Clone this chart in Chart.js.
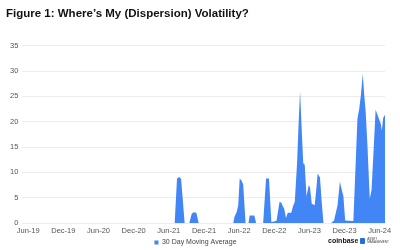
<!DOCTYPE html>
<html>
<head>
<meta charset="utf-8">
<script src="https://cdn.jsdelivr.net/npm/chart.js@4"></script>
<style>
  html, body { margin: 0; padding: 0; background: #fff; }
  #wrap { position: relative; width: 400px; height: 250px; }
  #logo { position: absolute; left: 328px; top: 237px; font-family: "Liberation Sans", Arial, sans-serif; font-size: 7px; font-weight: bold; color: #111; white-space: nowrap; }
  #logo .icon { display: inline-block; width: 5px; height: 6px; background: #1f6fe0; margin: 0 2px 0 2px; vertical-align: -1px; border-radius: 1px; }
  #logo .sub { font-size: 3px; font-weight: normal; color: #444; display: inline-block; line-height: 3px; vertical-align: 0; }
</style>
</head>
<body>
<div id="wrap">
  <canvas id="chart" width="400" height="250"></canvas>
  <div id="logo">coinbase<span class="icon"></span><span class="sub">ASSET<br>MANAGEMENT</span></div>
</div>
<script>
// Libellés des graduations (tous les 6 mois depuis Jun-19)
const tickLabels = ['Jun-19', 'Dec-19', 'Jun-20', 'Dec-20', 'Jun-21', 'Dec-21',
                    'Jun-22', 'Dec-22', 'Jun-23', 'Dec-23', 'Jun-24'];

// Mois écoulés depuis juin 2019
const months = [0, 25.0, 25.4, 25.8, 26.1, 26.7, 27.5, 27.9, 28.2, 28.7, 29.1,
    35.0, 35.2, 35.6, 35.85, 36.1, 36.4, 36.7, 37.1, 37.6, 37.8, 38.6, 38.9,
    40.1, 40.6, 41.1, 41.5, 42.0, 42.4, 42.9, 43.2, 43.5, 43.7, 44.0, 44.3, 44.9,
    45.2, 45.5, 45.9, 46.15, 46.4, 46.7, 46.95, 47.2, 47.5, 47.9, 48.1, 48.4, 48.9,
    49.2, 49.4, 49.8, 50.1, 50.4, 51.7, 52.2, 52.8, 53.2, 53.5, 53.8, 54.1, 55.5,
    55.9, 56.2, 56.5, 56.8, 57.1, 57.35, 57.6, 57.9, 58.3, 58.6, 59.0, 59.3, 59.6,
    59.9, 60.2, 60.35, 60.6, 60.9];

// Moyenne mobile 30 jours
const movingAverage = [0, 0, 8.8, 9.1, 8.7, 0, 0, 1.8, 2.1, 2.0, 0,
    0, 1.2, 2.2, 3.5, 8.8, 8.4, 7.6, 0, 0, 1.5, 1.5, 0,
    0, 8.8, 8.8, 0.2, 0.3, 0.5, 4.2, 4.0, 3.2, 2.8, 1.0, 2.0, 2.0,
    3.3, 4.2, 12, 19.5, 26, 18, 11.8, 11.5, 5.3, 7.5, 7.0, 3.8, 3.5,
    7.0, 9.8, 9.0, 4.2, 0, 0, 0.5, 3.5, 8.2, 6.6, 5.3, 0.5, 0.4,
    12, 20.7, 22.5, 25.4, 29.5, 25.4, 22, 15.4, 4.8, 6.5, 15.4, 22.4, 21.4,
    20.5, 19.5, 18.2, 20.8, 21.4];

const points = months.map((m, i) => ({ x: m, y: movingAverage[i] }));

const ctx = document.getElementById('chart');

new Chart(ctx, {
    type: 'line',
    data: {
        datasets: [{
            label: '30 Day Moving Average',
            data: points,
            backgroundColor: '#4285f4',
            borderColor: '#4285f4',
            borderWidth: 0,
            pointRadius: 0,
            pointStyle: 'rect',
            fill: 'origin',
            tension: 0
        }]
    },
    options: {
        responsive: false,
        animation: false,
        layout: { padding: { left: 6, right: 15, top: 0, bottom: -6 } },
        plugins: {
            title: {
                display: true,
                text: 'Figure 1: Where\u2019s My (Dispersion) Volatility?',
                align: 'start',
                color: '#111',
                font: { family: 'Liberation Sans', size: 11.5, weight: 'bold' },
                padding: { top: 7, bottom: 25 }
            },
            legend: {
                position: 'bottom',
                labels: {
                    usePointStyle: true,
                    boxWidth: 4,
                    boxHeight: 4,
                    color: '#444',
                    padding: 1,
                    font: { family: 'Liberation Sans', size: 7 }
                }
            },
            tooltip: { enabled: false }
        },
        scales: {
            x: {
                type: 'linear',
                min: -1.0,
                max: 60.9,
                afterBuildTicks: axis => {
                    axis.ticks = tickLabels.map((t, i) => ({ value: i * 6 }));
                },
                ticks: {
                    autoSkip: false,
                    maxRotation: 0,
                    padding: 3,
                    color: '#555',
                    font: { family: 'Liberation Sans', size: 7.5 },
                    callback: (v) => tickLabels[Math.round(v / 6)]
                },
                grid: { display: false, drawTicks: false },
                border: { display: false }
            },
            y: {
                min: 0,
                max: 35,
                ticks: {
                    stepSize: 5,
                    color: '#555',
                    padding: 4,
                    font: { family: 'Liberation Sans', size: 7.5 }
                },
                grid: { color: '#ececec', drawTicks: false },
                border: { display: false }
            }
        }
    }
});
</script>
</body>
</html>
